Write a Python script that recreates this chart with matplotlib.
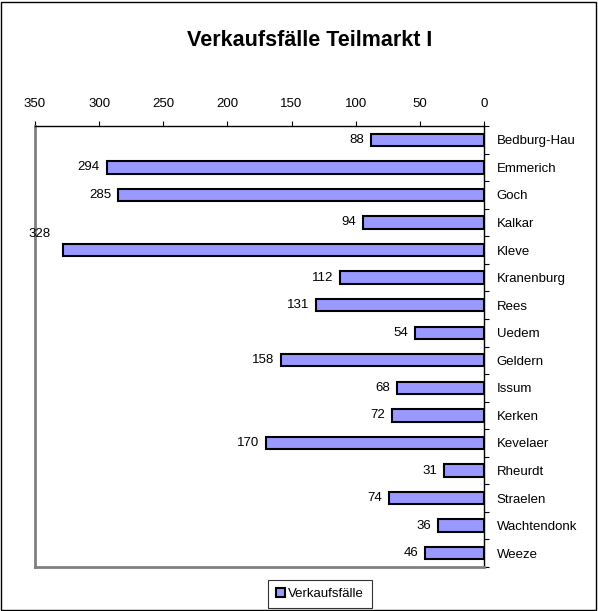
import matplotlib
matplotlib.use("Agg")
import matplotlib.pyplot as plt
from matplotlib.patches import Rectangle
import numpy as np

plt.rcParams['font.family'] = ['Liberation Sans', 'DejaVu Sans']

categories = ["Bedburg-Hau", "Emmerich", "Goch", "Kalkar", "Kleve", "Kranenburg", "Rees",
              "Uedem", "Geldern", "Issum", "Kerken", "Kevelaer", "Rheurdt", "Straelen",
              "Wachtendonk", "Weeze"]
values = [88, 294, 285, 94, 328, 112, 131, 54, 158, 68, 72, 170, 31, 74, 36, 46]
xticks = [350, 300, 250, 200, 150, 100, 50, 0]
series_name = "Verkaufsfälle"
title = "Verkaufsfälle Teilmarkt I"

FS = 9.5
W, H = 598, 611
fig = plt.figure(figsize=(W / 100, H / 100), dpi=100)
fig.patch.set_facecolor('white')
fig.add_artist(Rectangle((1 / W, 1 / H), (W - 3) / W, (H - 3) / H, transform=fig.transFigure,
                         fill=False, edgecolor='black', linewidth=1.0))

left, right, top, bottom = 35, 484, 126, 567
ax = fig.add_axes([left / W, 1 - bottom / H, (right - left) / W, (bottom - top) / H])

n = len(categories)
y = np.arange(n)
ax.barh(y, values, height=0.45, color='#9999FF', edgecolor='black', linewidth=1.5, zorder=3)
ax.set_xlim(350, 0)
ax.set_ylim(n - 0.5, -0.5)

ax.xaxis.tick_top()
ax.set_xticks(xticks)
ax.set_xticklabels([str(t) for t in xticks], fontsize=FS)
ax.tick_params(axis='x', direction='out', length=3.6, width=0.8, pad=8, color='black')

ax.yaxis.tick_right()
ax.set_yticks(y)
ax.set_yticklabels(categories, fontsize=FS)
ax.tick_params(axis='y', which='major', length=0, pad=9)
ax.set_yticks(np.arange(-0.5, n, 1.0), minor=True)
ax.tick_params(axis='y', which='minor', direction='out', length=3.6, width=0.8)

for s in ['top', 'right']:
    ax.spines[s].set_color('black')
    ax.spines[s].set_linewidth(1.0)
for s in ['left', 'bottom']:
    ax.spines[s].set_color('#808080')
    ax.spines[s].set_linewidth(2.0)

for yi, v in zip(y, values):
    if v > 320:
        ax.annotate(str(v), xy=(v, yi), xytext=(-9, 7), textcoords='offset points',
                    ha='right', va='bottom', fontsize=FS)
    else:
        ax.annotate(str(v), xy=(v, yi), xytext=(-5, 0), textcoords='offset points',
                    ha='right', va='center', fontsize=FS)

fig.text(310 / W, 1 - 41 / H, title, ha='center', va='center', fontsize=15.5, fontweight='bold')

handle = Rectangle((0, 0), 1, 1, facecolor='#9999FF', edgecolor='black', linewidth=1.5)
leg = fig.legend([handle], [series_name], loc='center', bbox_to_anchor=(320 / W, 1 - 594 / H),
                 fontsize=FS, frameon=True, fancybox=False, edgecolor='black',
                 handlelength=0.7, handleheight=0.7, handletextpad=0.2, borderpad=0.6,
                 borderaxespad=0)
leg.get_frame().set_linewidth(0.8)

fig.savefig("out.png", dpi=100)
